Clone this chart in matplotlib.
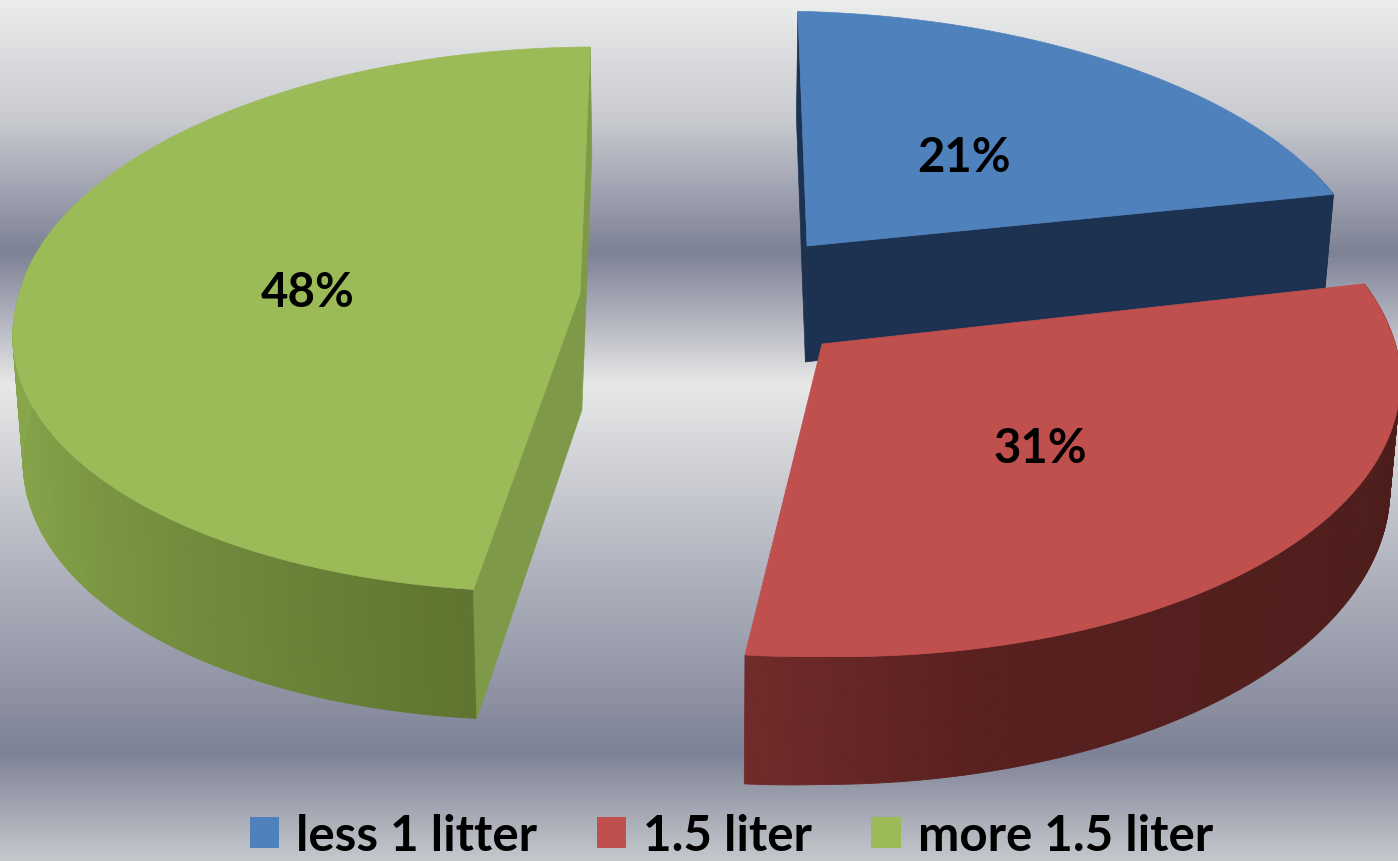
import numpy as np
import matplotlib
matplotlib.use("Agg")
import matplotlib.pyplot as plt
from matplotlib.colors import LinearSegmentedColormap, to_rgb
from matplotlib.patches import Polygon, Patch

# Chart content
categories = ["less 1 litter", "1.5 liter", "more 1.5 liter"]
shares = [21, 31, 48]

# Colours per slice: top face, straight cut walls
top_colors = ["#4f81bd", "#c0504d", "#9bbb59"]
cut_colors = ["#1d3150", "#4e1e1c", "#7e9a49"]

# Curved wall shading along the rim: angle (deg) -> colour
rim_shades = [
    ([0, 76], ["#1d3150", "#1d3150"]),
    ([76, 120, 165, 188], ["#481b19", "#4f1e1c", "#58201f", "#722b2b"]),
    ([188, 215, 245, 275, 360], ["#5f7530", "#708a3c", "#82a047", "#8aa84c", "#8aa84c"]),
]

# Projection of the disc onto the canvas (pixels)
VANISH_X = 700.0
RX, RY = 570.0, 270.0
PERSP = 0.093
DEPTH = 116.0
DEPTH_TILT = 0.07
SHRINK = 0.985
# Per-slice placement: pie tip, radial scales and skews
tips = [(807, 247), (822, 345), (580, 295)]
x_scale = [0.98, 1.01, 0.985]
y_scale = [0.95, 1.05, 1.0]
y_skew = [11.0, 9.0, 3.0]
x_skew = [0.0, 10.0, 17.0]
label_pos = [(964, 158), (1040, 449), (308, 293)]
FONT = "Lato"


def top_xy(theta, i, r=1.0):
    tip = tips[i]
    u, v = r * np.sin(theta), r * np.cos(theta)
    w = 1 + PERSP * v
    x = VANISH_X + (tip[0] - VANISH_X + RX * x_scale[i] * u) / w + x_skew[i] * np.minimum(v, 0)
    y = tip[1] - RY * y_scale[i] * v / w + y_skew[i] * np.abs(u)
    return x, y


def base_xy(theta, i, r=1.0):
    x, y = top_xy(theta, i, r)
    u, v = r * np.sin(theta), r * np.cos(theta)
    w = 1 + PERSP * v
    return VANISH_X + (x - VANISH_X) * SHRINK, y + DEPTH / w * (1 - DEPTH_TILT * u)


def shade(angle_deg, stops):
    pos, cols = stops
    rgb = np.array([to_rgb(c) for c in cols])
    return [np.interp(angle_deg, pos, rgb[:, i]) for i in range(3)]


fig = plt.figure(figsize=(13.98, 8.62), dpi=100)
ax = fig.add_axes([0, 0, 1, 1])
ax.set_xlim(0, 1398)
ax.set_ylim(862, 0)
ax.axis("off")

# Banded backdrop
stops = [(0, "#ececec"), (120 / 862, "#c8cad0"), (252 / 862, "#7d8195"),
         (318 / 862, "#b0b3bd"), (385 / 862, "#e8e8e8"), (560 / 862, "#b4b7c1"),
         (755 / 862, "#7e8296"), (862 / 862, "#c4c7cc")]
cmap = LinearSegmentedColormap.from_list("band", stops)
ax.imshow(np.linspace(0, 1, 862)[:, None], cmap=cmap, aspect="auto",
          extent=(0, 1398, 862, 0), zorder=0)

edges = np.deg2rad(np.cumsum([0] + shares) * 3.6)
for i in range(len(shares)):
    start, stop = edges[i], edges[i + 1]
    zo = 2 + i * 3
    arc = np.linspace(start, stop, 200)

    # Outer wall in thin shaded strips
    for a, b in zip(arc[:-1], arc[1:]):
        x0, y0 = top_xy(a, i)
        x1, y1 = top_xy(b, i)
        x2, y2 = base_xy(b, i)
        x3, y3 = base_xy(a, i)
        c = shade(np.rad2deg((a + b) / 2), rim_shades[i])
        if np.cos((a + b) / 2) < 0.35:
            ax.add_patch(Polygon([(x0, y0), (x1, y1), (x2, y2), (x3, y3)],
                                 fc=c, ec=c, lw=0.6, zorder=zo))

    # Straight cut walls running from the tip to each end of the arc
    for edge in (start, stop):
        if i == 1:
            continue
        tx, ty = top_xy(0.0, i, 0.0)
        bx, by = base_xy(0.0, i, 0.0)
        ex, ey = top_xy(edge, i)
        fx, fy = base_xy(edge, i)
        ax.add_patch(Polygon([(tx, ty), (ex, ey), (fx, fy), (bx, by)],
                             fc=cut_colors[i], ec=cut_colors[i], lw=0.5, zorder=zo + 1))

    # Top face
    xs, ys = top_xy(arc, i)
    tx, ty = top_xy(0.0, i, 0.0)
    ax.add_patch(Polygon(np.column_stack([np.r_[tx, xs], np.r_[ty, ys]]),
                         fc=top_colors[i], ec=top_colors[i], lw=0.5, zorder=zo + 2))

    ax.text(*label_pos[i], f"{shares[i]}%", ha="center", va="center", zorder=20,
            family=FONT, fontweight="bold", fontsize=34, color="black")

handles = [Patch(fc=c, ec="none") for c in top_colors]
ax.legend(handles, categories, loc="lower center", bbox_to_anchor=(731.5 / 1398, -0.048),
          ncol=3, frameon=False, handlelength=0.6, handleheight=0.6, handletextpad=0.35,
          columnspacing=1.2, prop={"family": FONT, "weight": "bold", "size": 35.5})

fig.savefig("out.png", dpi=100)
